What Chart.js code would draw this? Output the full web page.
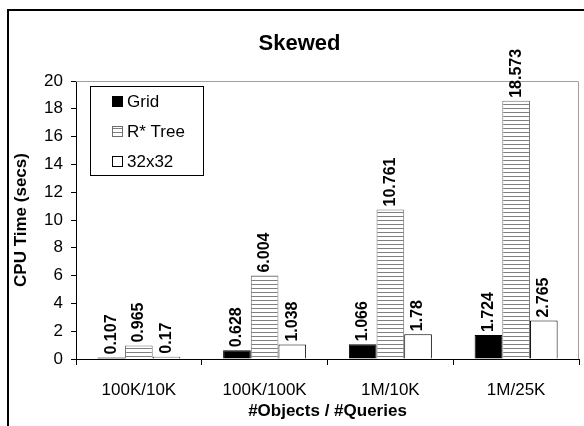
<!DOCTYPE html>
<html lang="en">
  <head>
    <meta charset="UTF-8" />
    <title>Skewed</title>
    <script src="https://cdn.jsdelivr.net/npm/chart.js"></script>
    <style>
      body { margin: 0; background: #fff; }
      #wrap { position: relative; width: 584px; height: 426px; overflow: hidden; }
      #frame { position: absolute; left: 7px; top: 9px; width: 700px; height: 600px; border: 2px solid #000; pointer-events: none; }
    </style>
  </head>
  <body>
    <div id="wrap">
      <canvas id="chart" width="584" height="426"></canvas>
      <div id="frame"></div>
    </div>
    <script>
      const categories = ["100K/10K", "100K/100K", "1M/10K", "1M/25K"];
      const gridTimes = [0.107, 0.628, 1.066, 1.724];
      const rtreeTimes = [0.965, 6.004, 10.761, 18.573];
      const grid32Times = [0.17, 1.038, 1.78, 2.765];

      const FONT = "'Liberation Sans', Arial, sans-serif";

      // horizontal stripes for the R* Tree bars
      function stripes() {
        const c = document.createElement("canvas");
        c.width = 4;
        c.height = 4;
        const g = c.getContext("2d");
        g.fillStyle = "#fff";
        g.fillRect(0, 0, 4, 4);
        g.fillStyle = "#808080";
        g.fillRect(0, 0, 4, 1);
        return g.createPattern(c, "repeat");
      }
      const stripePattern = stripes();

      const plotFrame = {
        id: "plotFrame",
        beforeDatasetsDraw(chart) {
          const { ctx, chartArea: a } = chart;
          ctx.save();
          ctx.strokeStyle = "#a0a0a0";
          ctx.lineWidth = 1;
          ctx.beginPath();
          ctx.moveTo(a.left, a.top + 0.5);
          ctx.lineTo(a.right - 0.5, a.top + 0.5);
          ctx.lineTo(a.right - 0.5, a.bottom);
          ctx.stroke();
          ctx.restore();
        },
      };

      const valueLabels = {
        id: "valueLabels",
        afterDatasetsDraw(chart) {
          const ctx = chart.ctx;
          ctx.save();
          ctx.fillStyle = "#000";
          ctx.font = "bold 16px " + FONT;
          ctx.textAlign = "left";
          ctx.textBaseline = "middle";
          chart.data.datasets.forEach((ds, i) => {
            chart.getDatasetMeta(i).data.forEach((bar, j) => {
              ctx.save();
              ctx.translate(bar.x, bar.y - 3);
              ctx.rotate(-Math.PI / 2);
              ctx.fillText(String(ds.data[j]), 0, 0);
              ctx.restore();
            });
          });
          ctx.restore();
        },
      };

      const boxLegend = {
        id: "boxLegend",
        afterDraw(chart) {
          const ctx = chart.ctx;
          const x = 90, y = 86, w = 113, h = 89;
          ctx.save();
          ctx.fillStyle = "#fff";
          ctx.fillRect(x, y, w, h);
          ctx.strokeStyle = "#000";
          ctx.lineWidth = 1;
          ctx.strokeRect(x + 0.5, y + 0.5, w, h);
          ctx.font = "17px " + FONT;
          ctx.textBaseline = "middle";
          chart.data.datasets.forEach((ds, i) => {
            const cy = y + 15 + i * 30;
            ctx.fillStyle = ds.backgroundColor;
            ctx.fillRect(112, cy - 5, 11, 11);
            ctx.strokeStyle = ds.borderColor;
            ctx.strokeRect(112.5, cy - 4.5, 10, 10);
            ctx.fillStyle = "#000";
            ctx.fillText(ds.label, 127, cy + 1);
          });
          ctx.restore();
        },
      };

      new Chart(document.getElementById("chart"), {
        type: "bar",
        data: {
          labels: categories,
          datasets: [
            { label: "Grid", data: gridTimes, backgroundColor: "#000", borderColor: "#000", borderWidth: 1 },
            { label: "R* Tree", data: rtreeTimes, backgroundColor: stripePattern, borderColor: "#6e6e6e", borderWidth: 1 },
            { label: "32x32", data: grid32Times, backgroundColor: "#fff", borderColor: "#000", borderWidth: 1 },
          ],
        },
        options: {
          responsive: false,
          animation: false,
          layout: { padding: { left: 20, right: 5, top: 0, bottom: 0 } },
          datasets: { bar: { categoryPercentage: 0.66, barPercentage: 1.0 } },
          plugins: {
            legend: { display: false },
            tooltip: { enabled: false },
            title: {
              display: true,
              text: "Skewed",
              color: "#000",
              font: { family: FONT, size: 22, weight: "bold" },
              padding: { top: 31, bottom: 23.6 },
            },
          },
          scales: {
            x: {
              afterFit(scale) { scale.height = 67; },
              grid: { offset: true, drawOnChartArea: false, tickLength: 6, color: "#000" },
              border: { color: "#000" },
              ticks: { color: "#000", padding: 15, font: { family: FONT, size: 17 } },
              title: {
                display: true,
                text: "#Objects / #Queries",
                color: "#000",
                font: { family: FONT, size: 17, weight: "bold" },
                padding: { top: 0, bottom: 4 },
              },
            },
            y: {
              min: 0,
              max: 20,
              afterFit(scale) { scale.width = 56; },
              grid: { drawOnChartArea: false, tickLength: 5, color: "#000" },
              border: { color: "#000" },
              ticks: { stepSize: 2, color: "#000", padding: 8, font: { family: FONT, size: 17 } },
              title: {
                display: true,
                text: "CPU Time (secs)",
                color: "#000",
                font: { family: FONT, size: 17, weight: "bold" },
                padding: { top: -9, bottom: 0 },
              },
            },
          },
        },
        plugins: [plotFrame, valueLabels, boxLegend],
      });
    </script>
  </body>
</html>
